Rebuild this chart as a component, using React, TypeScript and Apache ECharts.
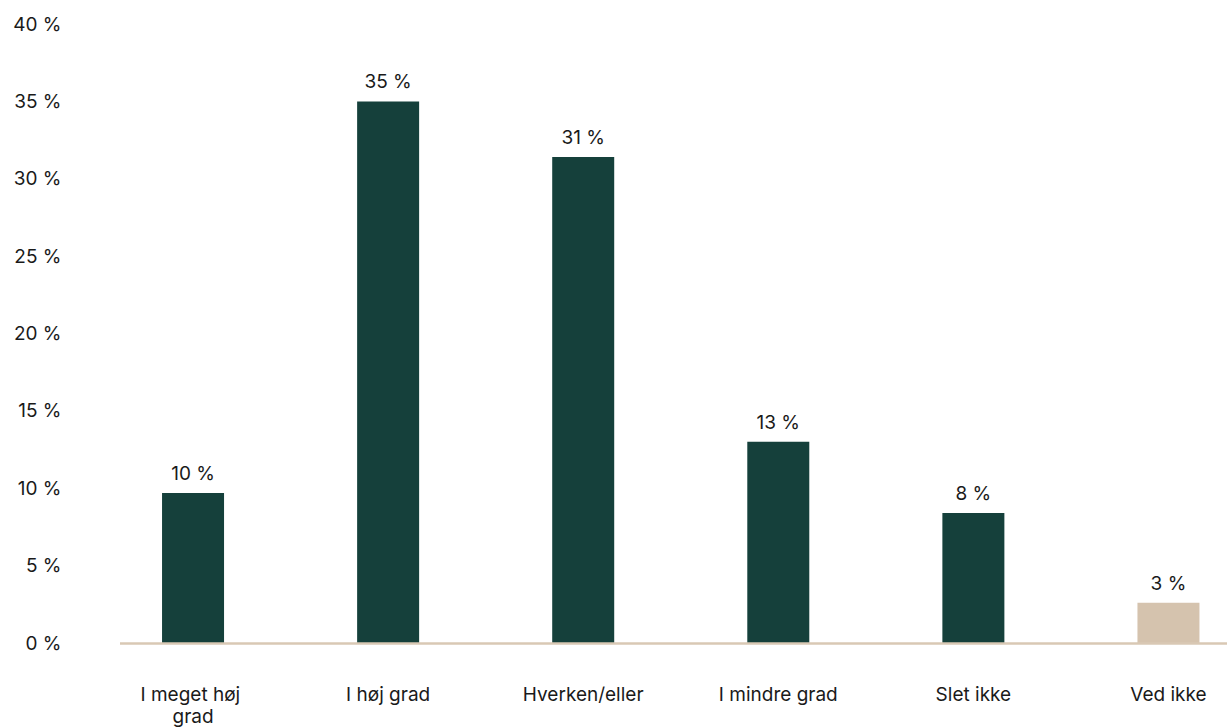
import React, { useEffect, useRef } from "react";
import * as echarts from "echarts";

const categories = ["I meget høj grad", "I høj grad", "Hverken/eller", "I mindre grad", "Slet ikke", "Ved ikke"];
const values = [9.7, 35.0, 31.4, 13.0, 8.4, 2.6];
const barColors = ["#15403b", "#15403b", "#15403b", "#15403b", "#15403b", "#d5c3ae"];
const yTicks = [0, 5, 10, 15, 20, 25, 30, 35, 40];

export default function App() {
  const ref = useRef<HTMLDivElement>(null);
  useEffect(() => {
    if (!ref.current) return;
    const chart = echarts.init(ref.current, null, { renderer: "svg" });
    const font = "Inter, 'Noto Sans', sans-serif";
    chart.setOption({
      animation: false,
      backgroundColor: "#ffffff",
      grid: { left: 95.5, right: 0, top: 24, bottom: 85, containLabel: false },
      xAxis: {
        type: "category",
        data: categories,
        axisLine: { show: false },
        axisTick: { show: false },
        axisLabel: {
          color: "#1a1a1a",
          fontFamily: font,
          fontSize: 19,
          margin: 40,
          lineHeight: 22,
          width: 125,
          overflow: "break",
          interval: 0,
        },
      },
      yAxis: {
        type: "value",
        min: yTicks[0],
        max: yTicks[yTicks.length - 1],
        interval: 5,
        splitLine: { show: false },
        axisLine: { show: false },
        axisTick: { show: false },
        axisLabel: {
          color: "#1a1a1a",
          fontFamily: font,
          fontSize: 19,
          margin: 34,
          formatter: (v: number) => `${v} %`,
        },
      },
      graphic: [
        {
          type: "line",
          shape: { x1: 120, y1: 643.5, x2: 1227, y2: 643.5 },
          style: { stroke: "#d9c8b4", lineWidth: 2.5 },
          z: 10,
        },
      ],
      series: [
        {
          type: "bar",
          barWidth: 62,
          data: values.map((v, i) => ({ value: v, itemStyle: { color: barColors[i] } })),
          label: {
            show: true,
            position: "top",
            distance: 10,
            color: "#1a1a1a",
            fontFamily: font,
            fontSize: 19,
            formatter: (p: any) => `${Math.round(p.value)} %`,
          },
        },
      ],
    });
    return () => chart.dispose();
  }, []);
  return (
    <div style={{ position: "fixed", left: 0, top: 0, width: 1227, height: 728, background: "#fff", overflow: "hidden" }}>
      <div ref={ref} style={{ position: "absolute", left: 0, top: 0, width: 1266, height: 728 }} />
    </div>
  );
}
